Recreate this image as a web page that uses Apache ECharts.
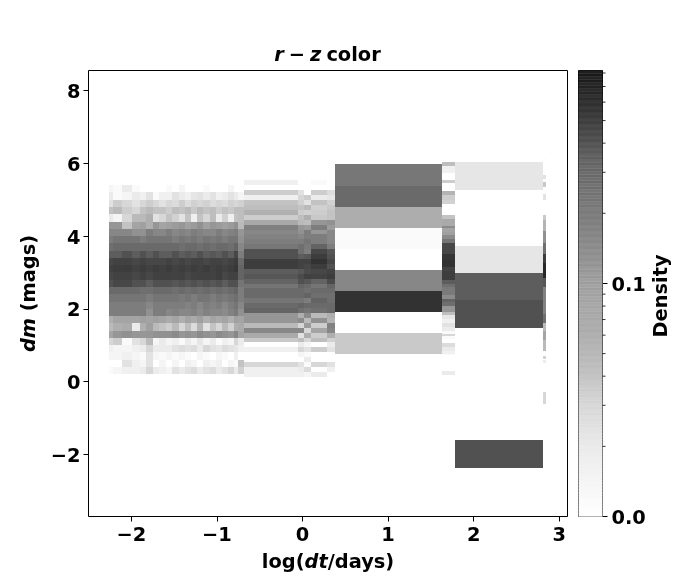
<!DOCTYPE html>
<html><head><meta charset="utf-8">
<script src="https://cdn.jsdelivr.net/npm/echarts@6/dist/echarts.min.js"></script>
<style>html,body{margin:0;background:#fff}#c{width:700px;height:580px}</style></head>
<body><div id="c"></div>
<script>
// Tick labels
const xTicks = [-2,-1,0,1,2,3];
const yTicks = [-2,0,2,4,6,8];
const cbarMajor = [0.01,0.1];
const cbarMinor = [0.02,0.03,0.04,0.05,0.06,0.07,0.08,0.09,0.2,0.3,0.4,0.5,0.6,0.7,0.8];

// Density values below are in thousandths.
// Left block: log(dt) column edges, dm row edges, one list per column (top to bottom)
const leftX = [-2.255,-2.208,-2.103,-1.986,-1.904,-1.834,-1.752,-1.671,-1.6,-1.519,-1.437,-1.367,-1.297,-1.227,-1.157,-1.086,-1.016,-0.946,-0.876,-0.806,-0.748,-0.689];
const leftY = [5.4,5.2,5,4.8,4.6,4.4,4.2,4,3.8,3.6,3.4,3.2,3,2.8,2.6,2.4,2.2,2,1.8,1.6,1.4,1.2,1,0.8,0.6,0.4,0.2];
const leftDensity = [
[14,20,24,40,20,120,165,200,270,365,470,500,470,420,300,235,200,200,61,49,86,30,17,14,0,12],
[12,12,35,49,14,120,165,235,300,365,495,520,495,470,300,235,200,200,86,61,120,35,14,14,0,14],
[20,14,30,35,30,40,165,235,300,420,495,530,495,470,300,235,200,200,86,70,135,12,14,17,24,17],
[12,20,24,30,49,86,135,235,300,365,470,500,470,420,300,235,200,200,86,20,120,24,17,14,17,17],
[0,17,30,40,49,99,135,200,300,420,495,520,500,420,270,235,200,200,99,61,120,30,20,12,14,20],
[0,24,35,49,61,61,200,235,300,365,470,500,470,365,270,200,165,135,86,99,120,49,30,24,24,30],
[0,12,30,40,24,120,165,235,300,420,470,520,500,420,300,235,200,200,99,49,135,14,20,14,0,20],
[0,17,24,40,30,86,165,235,300,365,470,500,500,420,300,235,200,200,86,40,135,20,20,12,14,17],
[12,17,30,35,40,99,200,235,300,365,495,530,500,420,300,235,200,165,70,35,135,14,20,14,0,14],
[0,24,27,45,33,110,165,200,300,420,470,500,495,390,270,235,200,180,86,49,150,17,24,12,14,24],
[14,20,35,40,24,122,180,235,270,365,495,520,500,420,300,215,200,165,61,30,120,12,27,14,0,20],
[0,17,27,49,40,99,165,215,300,390,470,500,470,390,270,235,180,165,86,45,135,20,24,12,17,24],
[0,22,33,37,17,110,200,235,300,365,495,520,495,420,300,200,200,180,72,27,122,14,27,0,14,27],
[0,24,30,49,40,135,180,200,270,420,495,500,500,390,270,235,165,150,99,55,150,22,20,14,0,20],
[12,20,33,40,30,99,165,235,300,365,470,530,500,420,300,235,200,180,61,24,135,14,30,12,17,24],
[0,24,27,45,45,122,165,215,270,390,495,500,495,390,270,200,180,165,86,40,122,20,24,0,14,27],
[0,17,30,35,20,110,200,235,300,365,495,520,520,420,300,235,200,165,72,30,150,12,22,14,17,20],
[0,20,27,40,33,99,165,200,300,420,470,500,470,365,270,215,165,150,86,49,135,17,27,12,0,24],
[14,24,33,37,17,110,180,235,270,365,495,520,500,420,300,235,200,180,61,33,122,14,24,0,14,30],
[0,20,30,45,40,135,200,235,340,470,530,560,500,420,340,270,235,215,99,61,165,30,22,17,12,20],
[0,14,33,45,45,49,122,135,165,200,300,340,340,235,200,200,165,135,86,72,86,20,17,0,40,33]
];

// Middle block: columns near log(dt) = -0.69 .. 0.37, rows 0.135 mag apart from dm = 5.53
const midX = [-0.689,-0.047,0.023,0.105,0.292,0.374];
const midTop = 5.53, midStep = 0.135;
const midDensity = [
[17,0,35,17,40,45,58,35,75,190,165,180,200,228,420,420,520,520,365,390,340,235,300,300,235,300,340,122,122,49,165,72,37,0,17,0,0,30,17,17],
[0,0,24,30,33,40,35,45,49,122,135,165,200,270,270,365,495,495,390,445,420,340,300,300,235,340,270,61,150,30,165,24,45,20,30,14,0,24,20,17],
[0,0,0,35,24,49,33,61,45,110,200,200,235,215,200,390,500,470,445,500,390,300,270,340,200,300,235,150,49,110,30,61,30,14,24,12,20,12,27,14],
[12,0,35,20,40,33,35,37,122,200,122,200,200,340,470,520,600,520,470,495,340,235,300,270,340,300,270,49,135,35,86,35,45,0,35,0,0,30,0,20],
[0,0,27,22,33,37,40,40,135,110,165,165,165,200,390,420,470,420,495,520,445,340,300,270,270,300,300,61,55,180,165,61,33,20,24,0,0,24,17,0]
];

// Wide and narrow bins on the right: [dm top, dm bottom, density]
const wide1X = [0.374,1.624];
const wide1 = [[5.97,5.39,225],[5.39,4.81,300],[4.81,4.23,65],[4.23,3.65,12],[3.07,2.49,165],[2.49,1.91,600],[1.33,0.77,37]];
const narrow2X = [1.624,1.776];
const narrow2 = [[6.025,5.915,45],[5.915,5.73,17],[5.53,5.45,35],[5.25,5.14,55],[5.14,4.98,35],[4.98,4.87,33],[4.57,4.46,40],[4.46,4.29,72],[4.29,4.21,150],[4.21,4.10,86],[4.10,4.02,99],[4.02,3.91,150],[3.91,3.82,235],[3.82,3.71,470],[3.71,3.52,470],[3.52,3.33,570],[3.33,3.14,600],[3.14,3.05,495],[3.05,2.78,520],[2.78,2.67,365],[2.67,2.59,270],[2.59,2.39,215],[2.39,2.28,150],[2.28,2.20,340],[2.20,2.09,270],[2.09,1.90,122],[1.90,1.82,45],[1.82,1.71,22],[1.71,1.62,17],[1.62,1.49,24],[1.49,1.40,20],[1.40,1.32,12],[1.32,1.24,30],[1.24,1.16,12],[1.05,0.96,27],[0.96,0.85,20],[0.85,0.77,17],[0.77,0.72,12],[0.28,0.19,20]];
const wide3X = [1.776,2.804];
const wide3 = [[6.05,5.28,22],[3.74,2.99,22],[2.99,2.23,365],[2.23,1.46,420],[-1.62,-2.37,420]];
const narrow4X = [2.804,2.84];
const narrow4 = [[6.13,6.08,12],[5.69,5.58,24],[5.5,5.36,37],[5.17,4.98,24],[4.59,4.43,37],[4.43,4.15,55],[4.15,3.8,135],[3.8,3.52,270],[3.52,3.25,520],[3.25,2.86,680],[2.86,2.59,390],[2.59,1.87,180],[1.87,1.6,270],[1.6,1.4,49],[1.4,1.13,86],[1.13,0.85,49],[0.69,0.63,33],[0.58,0.5,20],[-0.3,-0.61,30]];

// Colour scale: log-normalised density to grey
const dMin = 0.01, dMax = 0.82;
const logMin = Math.log10(dMin), logMax = Math.log10(dMax);
const greyStops = [[0,255],[0.08,245],[0.157,235],[0.25,215],[0.316,195],[0.41,175],[0.52,160],[0.68,125],[0.8,100],[0.9,60],[1,25]];
function greyAt(t){
  t = Math.max(0,Math.min(1,t));
  for(let i=1;i<greyStops.length;i++){
    if(t<=greyStops[i][0]){
      const a=greyStops[i-1],b=greyStops[i];
      return a[1]+(b[1]-a[1])*(t-a[0])/(b[0]-a[0]);
    }
  }
  return 25;
}
function cssGrey(g){g=Math.round(g);return 'rgb('+g+','+g+','+g+')';}
function densityColor(d){return cssGrey(greyAt((Math.log10(d)-logMin)/(logMax-logMin)));}

// Assemble cells [x0,x1,yTop,yBottom,density]
const cells = [];
leftDensity.forEach((col,i)=>col.forEach((v,j)=>{ if(v) cells.push([leftX[i],leftX[i+1],leftY[j],leftY[j+1],v/1000]); }));
midDensity.forEach((col,i)=>col.forEach((v,j)=>{ if(v) cells.push([midX[i],midX[i+1],midTop-midStep*j,midTop-midStep*(j+1),v/1000]); }));
[[wide1X,wide1],[narrow2X,narrow2],[wide3X,wide3],[narrow4X,narrow4]].forEach(([xs,rows])=>rows.forEach(r=>cells.push([xs[0],xs[1],r[0],r[1],r[2]/1000])));

// Colour bar stripes
const cbarBands = [];
const nBands = 150;
for(let i=0;i<nBands;i++){
  const a=logMin+(logMax-logMin)*i/nBands, b=logMin+(logMax-logMin)*(i+1)/nBands;
  cbarBands.push([a,b,i%2]);
}

const FONT = '"DejaVu Sans"';
const TS = 19.4;
const rich = {n:{fontFamily:FONT,fontWeight:'bold',fontSize:TS,color:'#000'},i:{fontFamily:FONT,fontWeight:'bold',fontStyle:'italic',fontSize:TS,color:'#000'}};
const labelRich = {a:{fontFamily:FONT,fontWeight:'bold',fontSize:TS,color:'#000',padding:[5,0,0,0]}};
const fmt = v => String(v).replace('-','\u2212');

const chart = echarts.init(document.getElementById('c'),null,{renderer:'canvas'});
chart.setOption({
  animation:false,
  backgroundColor:'#fff',
  title:{left:322.5,top:41,textAlign:'center',text:'{i|r} {n|\u2212} {i|z} {n|color}',textStyle:{rich:rich}},
  tooltip:{show:false},
  grid:[
    {left:88.5,top:70.5,width:479,height:446,show:true,borderColor:'#000',borderWidth:1,backgroundColor:'#fff'},
    {left:578.5,top:70.5,width:24,height:446,show:true,borderColor:'#000',borderWidth:1,backgroundColor:'transparent'}
  ],
  xAxis:[
    {type:'value',gridIndex:0,min:-2.5,max:3.096,
     name:'{n|log(}{i|dt}{n|/days)}',nameLocation:'middle',nameGap:37,nameTextStyle:{rich:rich},
     axisLine:{show:false,onZero:false},splitLine:{show:false},
     axisTick:{length:5,customValues:xTicks,lineStyle:{color:'#000',width:1}},
     axisLabel:{customValues:xTicks,formatter:fmt,margin:10,fontFamily:FONT,fontWeight:'bold',fontSize:TS,color:'#000',hideOverlap:false}},
    {type:'value',gridIndex:1,min:0,max:1,show:false}
  ],
  yAxis:[
    {type:'value',gridIndex:0,min:-3.714,max:8.556,
     name:'{i|dm}  {n|(mags)}',nameLocation:'middle',nameGap:49,nameRotate:90,nameTextStyle:{rich:rich},
     axisLine:{show:false,onZero:false},splitLine:{show:false},
     axisTick:{length:5,customValues:yTicks,lineStyle:{color:'#000',width:1}},
     axisLabel:{customValues:yTicks,formatter:v=>'{a|'+fmt(v)+'}',rich:labelRich,margin:8,hideOverlap:false}},
    {type:'value',gridIndex:1,position:'right',min:logMin,max:logMax,
     name:'Density',nameLocation:'middle',nameGap:50,nameRotate:90,
     nameTextStyle:{fontFamily:FONT,fontWeight:'bold',fontSize:TS,color:'#000',padding:[0,5,0,0]},
     axisLine:{show:false,onZero:false},splitLine:{show:false},
     axisTick:{length:5,customValues:cbarMajor.map(Math.log10),lineStyle:{color:'#000',width:1}},
     axisLabel:{customValues:cbarMajor.map(Math.log10),formatter:v=>'{a|'+Math.pow(10,v).toFixed(1)+'}',rich:labelRich,margin:9,hideOverlap:false,showMinLabel:true,showMaxLabel:true}}
  ],
  series:[
    {type:'custom',xAxisIndex:0,yAxisIndex:0,silent:true,clip:true,z:2,data:cells,encode:{x:[0,1],y:[2,3]},
     renderItem:(p,api)=>{
       const a=api.coord([api.value(0),api.value(2)]),b=api.coord([api.value(1),api.value(3)]);
       const x=Math.round(a[0]),y=Math.round(a[1]);
       return {type:'rect',shape:{x:x,y:y,width:Math.round(b[0])-x,height:Math.round(b[1])-y},style:{fill:densityColor(api.value(4))}};
     }},
    {type:'custom',xAxisIndex:1,yAxisIndex:1,silent:true,z:2,data:cbarBands,encode:{y:[0,1]},
     renderItem:(p,api)=>{
       const a=api.coord([0,api.value(1)]),b=api.coord([1,api.value(0)]);
       const t=((api.value(0)+api.value(1))/2-logMin)/(logMax-logMin);
       const g=greyAt(t)+(api.value(2)?4*t:-4*t);
       return {type:'rect',shape:{x:a[0],y:a[1]-0.2,width:b[0]-a[0],height:b[1]-a[1]+0.4},style:{fill:cssGrey(Math.min(255,g))}};
     }},
    {type:'custom',xAxisIndex:1,yAxisIndex:1,silent:true,clip:false,z:3,data:cbarMinor.map(v=>[1,Math.log10(v)]),encode:{x:0,y:1},
     renderItem:(p,api)=>{
       const a=api.coord([1,api.value(1)]);
       return {type:'line',shape:{x1:a[0],y1:a[1],x2:a[0]+3,y2:a[1]},style:{stroke:'#000',lineWidth:0.8}};
     }}
  ]
});
</script></body></html>
